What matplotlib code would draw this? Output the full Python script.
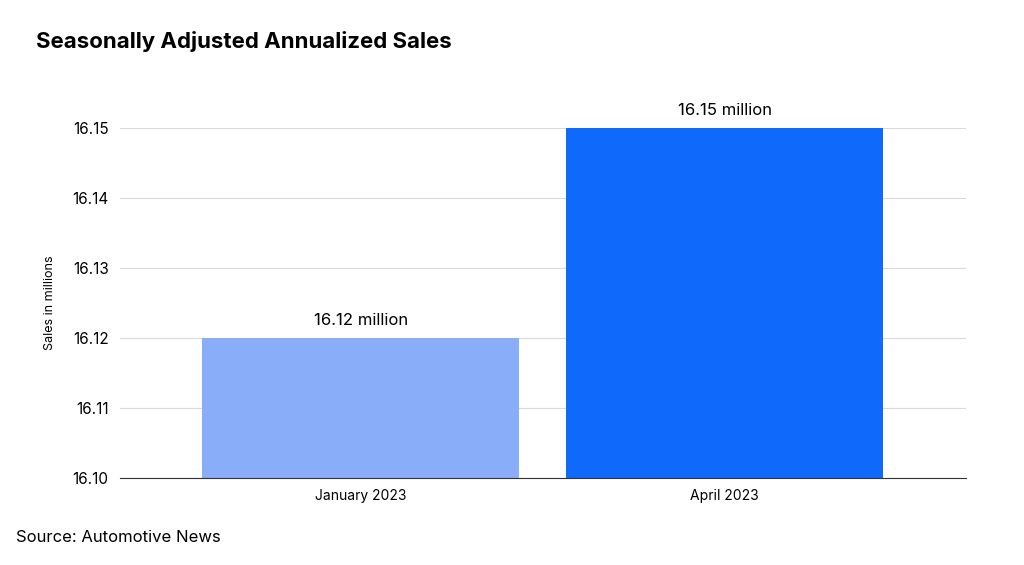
import matplotlib
matplotlib.use("Agg")
import matplotlib.pyplot as plt

categories = ["January 2023", "April 2023"]
values = [16.12, 16.15]
labels = ["16.12 million", "16.15 million"]
colors = ["#8aadfa", "#0f69fb"]
yticks = [16.10, 16.11, 16.12, 16.13, 16.14, 16.15]

plt.rcParams["font.family"] = ["Inter", "DejaVu Sans"]

fig = plt.figure(figsize=(10.24, 5.65), dpi=100)
ax = fig.add_axes([0.117, 0.154, 0.826, 0.619])

x = range(len(categories))
ax.bar(x, [v - 16.10 for v in values], bottom=16.10, width=0.87, color=colors, zorder=3)
for xi, v, lab in zip(x, values, labels):
    ax.text(xi, v + 0.0015, lab, ha="center", va="bottom", fontsize=12, clip_on=False)

ax.set_xlim(-0.662, 1.662)
ax.set_ylim(16.10, 16.15)
ax.set_yticks(yticks)
ax.set_yticklabels([f"{t:.2f}" for t in yticks], fontsize=11)
ax.set_xticks(list(x))
ax.set_xticklabels(categories, fontsize=10)
ax.tick_params(length=0, pad=8)
ax.grid(axis="y", color="#d9d9d9", linewidth=0.8, zorder=0)
for s in ["top", "right", "left"]:
    ax.spines[s].set_visible(False)
ax.spines["bottom"].set_color("#333333")
ax.spines["bottom"].set_zorder(4)
ax.set_ylabel("Sales in millions", fontsize=9, labelpad=12)

fig.text(0.035, 0.915, "Seasonally Adjusted Annualized Sales", fontsize=16, fontweight="bold")
fig.text(0.016, 0.04, "Source: Automotive News", fontsize=12)

fig.savefig("out.png", dpi=100)
